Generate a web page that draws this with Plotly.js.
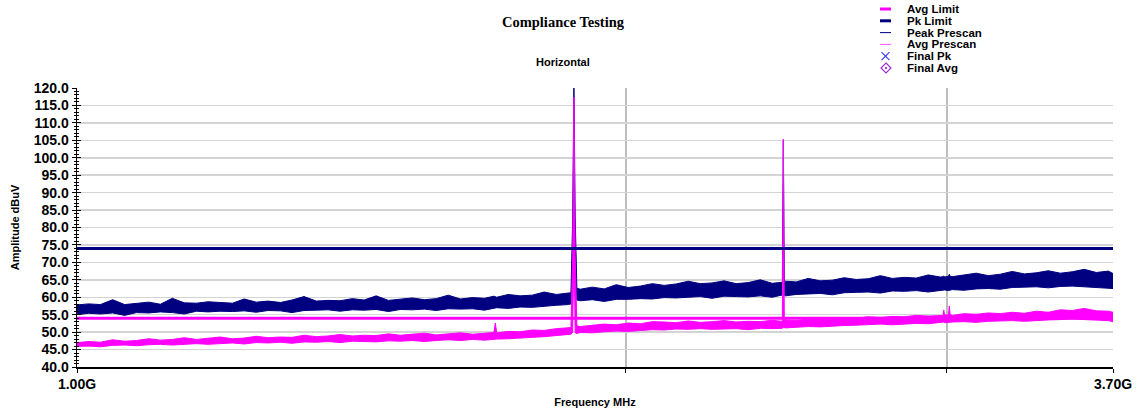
<!DOCTYPE html>
<html>
<head>
<meta charset="utf-8">
<script src="https://cdn.plot.ly/plotly-3.0.1.min.js"></script>
<style>
  html, body { margin: 0; padding: 0; background: #ffffff; }
  #chart { width: 1140px; height: 413px; }
</style>
</head>
<body>
<div id="chart"></div>
<script>
// ---------------- data ----------------
const freqMHz = [1000, 1015, 1030, 1046, 1062, 1078, 1095, 1111, 1128, 1145,
  1163, 1180, 1198, 1217, 1235, 1254, 1273, 1293, 1312, 1332,
  1353, 1373, 1394, 1416, 1437, 1459, 1482, 1504, 1527, 1551,
  1574, 1598, 1623, 1648, 1673, 1693, 1696, 1699, 1724, 1750,
  1777, 1804, 1832, 1860, 1866, 1870, 1873, 1876, 1880, 1888,
  1917, 1946, 1976, 2006, 2037, 2068, 2099, 2131, 2164, 2197,
  2230, 2264, 2299, 2334, 2370, 2406, 2434, 2437, 2440, 2443,
  2446, 2480, 2518, 2557, 2596, 2635, 2675, 2716, 2758, 2800,
  2843, 2886, 2930, 2975, 2985, 2988, 2991, 3006, 3009, 3012,
  3020, 3066, 3113, 3161, 3209, 3258, 3308, 3358, 3410, 3462,
  3514, 3568, 3623, 3678, 3700];

// Peak Prescan: upper and lower edge of the noisy trace (dBuV)
const peakHi = [57.8, 58.1, 57.9, 59.3, 57.9, 58.2, 58.6, 58.0, 59.7, 58.4,
  58.3, 58.7, 58.6, 58.3, 59.5, 58.6, 58.9, 58.5, 59.2, 60.2,
  58.9, 59.1, 59.0, 59.6, 59.2, 60.4, 59.1, 59.5, 59.8, 59.3,
  59.6, 60.6, 59.5, 59.9, 59.7, 60.3, 60.1, 60.0, 60.8, 60.4,
  60.6, 61.5, 60.8, 61.1, 61.3, 82.0, 121.0, 83.0, 62.6, 62.3,
  62.9, 62.4, 63.6, 62.8, 63.2, 63.9, 63.4, 63.8, 64.6, 63.9,
  64.1, 64.7, 63.9, 64.2, 65.0, 64.0, 64.4, 64.3, 105.0, 64.5,
  64.6, 64.4, 65.4, 64.7, 64.9, 65.6, 65.1, 65.3, 66.2, 65.4,
  65.7, 65.5, 66.4, 65.8, 65.9, 66.1, 65.8, 66.0, 66.6, 66.0,
  65.9, 66.3, 66.9, 66.2, 66.6, 67.4, 66.7, 67.0, 67.6, 66.9,
  67.3, 68.0, 67.1, 67.5, 66.8];
const peakLo = [55.0, 55.4, 55.2, 55.5, 54.8, 55.6, 55.5, 55.8, 55.6, 55.2,
  56.0, 55.8, 56.0, 55.9, 56.1, 55.7, 56.2, 56.1, 55.6, 56.2,
  56.3, 56.4, 56.0, 56.4, 56.3, 56.5, 55.9, 56.5, 56.4, 56.6,
  56.2, 56.7, 56.6, 56.7, 56.3, 56.9, 56.8, 57.0, 56.8, 57.2,
  57.1, 57.5, 57.7, 57.9, 58.1, 59.0, 78.0, 60.0, 59.2, 59.0,
  59.3, 58.8, 59.4, 59.4, 59.6, 59.5, 59.9, 59.8, 60.1, 60.2,
  59.7, 60.3, 60.2, 60.1, 60.4, 60.0, 60.6, 60.5, 60.8, 60.6,
  60.4, 60.8, 60.9, 61.1, 60.7, 61.3, 61.4, 61.5, 61.2, 61.8,
  61.7, 61.9, 61.5, 62.0, 62.1, 62.0, 62.1, 61.9, 62.0, 62.1,
  62.2, 62.0, 62.4, 62.5, 62.3, 62.8, 62.9, 63.0, 62.7, 63.1,
  63.2, 63.0, 62.9, 62.6, 62.5];

// Avg Prescan: upper and lower edge of the noisy trace (dBuV)
const avgHi = [47.0, 47.3, 47.1, 47.8, 47.4, 47.6, 48.1, 47.7, 47.9, 48.4,
  47.9, 48.2, 48.6, 48.1, 48.3, 48.8, 48.4, 48.6, 48.5, 49.1,
  48.7, 48.9, 49.3, 48.9, 49.1, 49.0, 49.5, 49.1, 49.3, 49.7,
  49.2, 49.5, 49.8, 49.4, 49.7, 49.9, 52.6, 49.8, 50.2, 50.1,
  50.6, 50.5, 51.0, 51.2, 51.3, 72.0, 117.4, 72.0, 51.8, 51.6,
  52.0, 52.3, 52.1, 52.6, 52.4, 53.0, 52.9, 52.7, 53.2, 52.8,
  53.0, 53.3, 52.9, 53.1, 53.0, 53.4, 53.1, 53.3, 105.3, 53.2,
  53.5, 53.3, 53.8, 53.6, 53.7, 54.1, 54.0, 54.4, 54.2, 54.5,
  54.4, 54.8, 54.6, 54.9, 54.8, 56.3, 54.9, 55.0, 57.5, 55.1,
  54.8, 55.3, 55.1, 55.5, 55.3, 55.7, 55.4, 56.0, 55.7, 56.4,
  56.2, 56.8, 56.1, 56.0, 55.7];
const avgLo = [45.9, 46.0, 45.8, 46.2, 46.3, 46.1, 46.4, 46.5, 46.3, 46.6,
  46.7, 46.5, 46.8, 46.9, 46.6, 47.0, 46.9, 47.1, 46.8, 47.2,
  47.1, 47.3, 47.0, 47.4, 47.3, 47.2, 47.5, 47.4, 47.6, 47.3,
  47.6, 47.8, 47.6, 47.9, 47.7, 48.0, 48.1, 48.0, 48.1, 48.4,
  48.5, 48.7, 49.0, 49.2, 49.4, 50.0, 76.0, 49.8, 49.6, 49.9,
  49.8, 50.1, 50.3, 50.2, 50.5, 50.7, 50.6, 50.9, 50.8, 51.0,
  50.8, 50.9, 51.0, 50.7, 51.1, 51.0, 51.2, 51.1, 51.4, 51.3,
  51.2, 51.4, 51.6, 51.5, 51.8, 51.9, 52.0, 52.2, 52.3, 52.1,
  52.4, 52.5, 52.4, 52.7, 52.8, 52.9, 52.7, 52.8, 52.9, 52.8,
  52.9, 53.0, 52.8, 53.1, 53.2, 53.3, 53.1, 53.4, 53.5, 53.6,
  53.8, 53.6, 53.4, 53.3, 53.0];

// Limits
const limitFreqMHz = [1000, 3700];
const avgLimit = [54, 54];
const pkLimit = [74, 74];

// Axis ticks
const xTickVals = [1000, 2000, 3000, 3700];
const xTickText = ['1.00G', '', '', '3.70G'];

// Legend entries
const legendNames = ['Avg Limit', 'Pk Limit', 'Peak Prescan', 'Avg Prescan', 'Final Pk', 'Final Avg'];

// ---------------- styling / layout ----------------
const NAVY = '#000080';
const MAGENTA = '#ff00ff';
const SANS = 'Arial, "Liberation Sans", sans-serif';
const SERIF = '"Times New Roman", "Liberation Serif", serif';

const FIG_W = 1140, FIG_H = 413;
const M = {l: 77, r: 27, t: 88, b: 46};
const PW = FIG_W - M.l - M.r, PH = FIG_H - M.t - M.b;
const px = x => (x - M.l) / PW;          // pixel -> paper x
const py = y => (FIG_H - M.b - y) / PH;  // pixel -> paper y

const traces = [
  {x: freqMHz, y: peakLo, mode: 'lines', line: {color: NAVY, width: 1}, name: 'Peak Prescan', showlegend: false, hoverinfo: 'skip'},
  {x: freqMHz, y: peakHi, mode: 'lines', line: {color: NAVY, width: 1}, fill: 'tonexty', fillcolor: NAVY, name: 'Peak Prescan', showlegend: false, hoverinfo: 'skip'},
  {x: freqMHz, y: avgLo, mode: 'lines', line: {color: MAGENTA, width: 1}, name: 'Avg Prescan', showlegend: false, hoverinfo: 'skip'},
  {x: freqMHz, y: avgHi, mode: 'lines', line: {color: MAGENTA, width: 1}, fill: 'tonexty', fillcolor: MAGENTA, name: 'Avg Prescan', showlegend: false, hoverinfo: 'skip'},
  {x: limitFreqMHz, y: pkLimit, yaxis: 'y2', mode: 'lines', line: {color: NAVY, width: 3}, name: 'Pk Limit', showlegend: false, hoverinfo: 'skip'},
  {x: limitFreqMHz, y: avgLimit, yaxis: 'y2', mode: 'lines', line: {color: MAGENTA, width: 3}, name: 'Avg Limit', showlegend: false, hoverinfo: 'skip'}
];

// custom compact legend
const legendRowsY = [9.0, 20.8, 32.6, 44.4, 56.2, 68.0];
const legX0 = 880, legX1 = 891, legTextX = 906;
const shapes = [];
const annotations = [];
const lineStyles = [
  {color: MAGENTA, width: 3},
  {color: NAVY, width: 3},
  {color: NAVY, width: 1},
  {color: '#ff55ff', width: 1}
];
lineStyles.forEach((st, i) => {
  shapes.push({type: 'line', xref: 'paper', yref: 'paper',
    x0: px(legX0), x1: px(legX1), y0: py(legendRowsY[i]), y1: py(legendRowsY[i]),
    line: {color: st.color, width: st.width}});
});
// Final Pk: X marker
{
  const cx = 885.5, cy = legendRowsY[4], h = 4;
  shapes.push({type: 'line', xref: 'paper', yref: 'paper', x0: px(cx - h), y0: py(cy - h), x1: px(cx + h), y1: py(cy + h), line: {color: '#3c3cff', width: 1.2}});
  shapes.push({type: 'line', xref: 'paper', yref: 'paper', x0: px(cx - h), y0: py(cy + h), x1: px(cx + h), y1: py(cy - h), line: {color: '#3c3cff', width: 1.2}});
}
// Final Avg: open diamond with dot
{
  const cx = 886, cy = legendRowsY[5], h = 5;
  const path = 'M ' + px(cx) + ',' + py(cy - h) + ' L ' + px(cx + h) + ',' + py(cy) + ' L ' + px(cx) + ',' + py(cy + h) + ' L ' + px(cx - h) + ',' + py(cy) + ' Z';
  shapes.push({type: 'path', xref: 'paper', yref: 'paper', path: path, line: {color: '#9b30c8', width: 1.2}});
  shapes.push({type: 'circle', xref: 'paper', yref: 'paper', x0: px(cx - 0.8), x1: px(cx + 0.8), y0: py(cy + 0.8), y1: py(cy - 0.8), line: {color: '#9b30c8', width: 1}, fillcolor: '#9b30c8'});
}
legendNames.forEach((nm, i) => {
  annotations.push({text: nm, xref: 'paper', yref: 'paper', x: px(legTextX), y: py(legendRowsY[i]),
    xanchor: 'left', yanchor: 'middle', showarrow: false, borderpad: 0,
    font: {family: SANS, size: 11.5, color: '#000000', weight: 'bold'}});
});
// subtitle
annotations.push({text: 'Horizontal', xref: 'paper', yref: 'paper', x: px(563), y: py(62),
  xanchor: 'center', yanchor: 'middle', showarrow: false,
  font: {family: SANS, size: 11, color: '#000000', weight: 'bold'}});

const layout = {
  width: FIG_W, height: FIG_H,
  margin: M,
  paper_bgcolor: '#ffffff', plot_bgcolor: '#ffffff',
  showlegend: false,
  title: {text: 'Compliance Testing', x: 563 / FIG_W, xanchor: 'center', xref: 'container',
    y: 1 - 22 / FIG_H, yanchor: 'middle', yref: 'container',
    font: {family: SERIF, size: 14.5, color: '#000000', weight: 'bold'}},
  xaxis: {
    type: 'log', range: [3, Math.log10(3700)],
    tickvals: xTickVals, ticktext: xTickText,
    ticks: 'outside', ticklen: 4, tickwidth: 1, tickcolor: '#000000',
    showline: true, linecolor: '#000000', linewidth: 1.5,
    showgrid: true, gridcolor: '#bdbdbd', gridwidth: 2,
    zeroline: false,
    tickfont: {family: SANS, size: 14, color: '#000000', weight: 'bold'},
    title: {text: 'Frequency MHz', standoff: 7, font: {family: SANS, size: 11, color: '#000000', weight: 'bold'}}
  },
  yaxis: {
    range: [40, 120], tick0: 40, dtick: 5, tickformat: '.1f',
    ticks: 'outside', ticklen: 4, tickwidth: 1, tickcolor: '#000000',
    minor: {dtick: 1, ticks: 'outside', ticklen: 2, tickwidth: 1, tickcolor: '#000000', showgrid: false},
    showline: true, linecolor: '#000000', linewidth: 1.5,
    showgrid: true, gridcolor: '#d4d4d4', gridwidth: 1.5,
    zeroline: false,
    tickfont: {family: SANS, size: 14, color: '#000000', weight: 'bold'},
    title: {text: 'Amplitude dBuV', standoff: 12, font: {family: SANS, size: 11, color: '#000000', weight: 'bold'}}
  },
  yaxis2: {
    overlaying: 'y', side: 'left', anchor: 'x',
    range: [40, 120], tick0: 40, dtick: 5,
    ticks: 'inside', ticklen: 4, tickwidth: 1, tickcolor: '#000000',
    minor: {dtick: 1, ticks: 'inside', ticklen: 2, tickwidth: 1, tickcolor: '#000000', showgrid: false},
    showticklabels: false, showgrid: false, showline: false, zeroline: false
  },
  shapes: shapes,
  annotations: annotations
};

Plotly.newPlot('chart', traces, layout, {staticPlot: true, displayModeBar: false});
</script>
</body>
</html>
